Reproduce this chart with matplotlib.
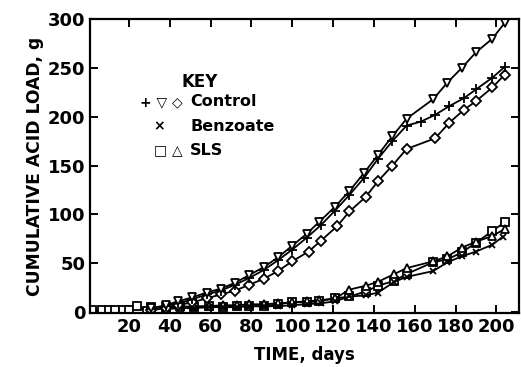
import matplotlib
matplotlib.use("Agg")
import matplotlib.pyplot as plt

plt.rcParams['font.family'] = ['DejaVu Sans']
plt.rcParams['font.weight'] = 'bold'
plt.rcParams['axes.labelweight'] = 'bold'

# Control (three replicates)
ctl_plus_days = [31, 38, 44, 51, 58, 65, 72, 79, 86, 93, 100, 107, 114, 121, 128, 135, 142, 149, 156,
                 163, 170, 177, 184, 190, 198, 204]
ctl_plus_vals = [3, 6, 9, 13, 18, 22, 28, 35, 43, 53, 64, 76, 89, 104, 120, 137, 157, 175, 191,
                 195, 202, 211, 219, 228, 240, 251]

ctl_tri_days = [31, 38, 44, 51, 58, 65, 72, 79, 86, 93, 100, 107, 113, 121, 128, 135, 142, 149, 156,
                169, 176, 183, 190, 198, 204]
ctl_tri_vals = [4, 7, 11, 15, 20, 24, 30, 38, 46, 56, 68, 80, 92, 108, 124, 142, 161, 180, 198,
                218, 235, 250, 266, 280, 296]

ctl_dia_days = [31, 38, 44, 51, 58, 65, 72, 79, 86, 93, 100, 108, 114, 122, 128, 136, 142, 149, 156,
                170, 177, 184, 190, 198, 204]
ctl_dia_vals = [2, 4, 7, 10, 14, 18, 22, 28, 34, 42, 52, 62, 73, 88, 103, 118, 134, 150, 167,
                178, 194, 207, 216, 230, 243]

# Benzoate
benz_days = [38, 45, 52, 59, 66, 73, 79, 86, 93, 100, 107, 114, 121, 128, 136, 142, 150, 156,
             169, 176, 183, 190, 198, 203]
benz_vals = [3, 4, 4, 5, 5, 5, 6, 6, 6, 7, 8, 9, 11, 16, 17, 20, 31, 36,
             42, 51, 57, 62, 69, 77]

# SLS (two replicates)
sls_sq_days = [2, 7, 10, 13, 17, 20, 24, 29, 31, 38, 45, 52, 59, 66, 73, 79, 86, 93, 100, 107, 113,
               121, 128, 136, 142, 150, 156, 169, 176, 183, 190, 198, 204]
sls_sq_vals = [2, 2, 2, 2, 2, 2, 6, 1, 5, 5, 6, 5, 6, 5, 6, 6, 6, 8, 10, 10, 11,
               14, 16, 21, 27, 32, 39, 51, 54, 61, 71, 83, 92]

sls_tri_days = [38, 45, 52, 59, 66, 73, 79, 86, 93, 100, 107, 113, 121, 128, 136, 142, 150, 156,
                169, 176, 183, 190, 198, 204]
sls_tri_vals = [4, 5, 6, 6, 7, 7, 8, 8, 9, 10, 11, 12, 14, 23, 27, 31, 39, 45,
                52, 57, 66, 72, 78, 85]

x_ticks = [20, 40, 60, 80, 100, 120, 140, 160, 180, 200]
y_ticks = [0, 50, 100, 150, 200, 250, 300]

fig = plt.figure(figsize=(5.21, 3.67), dpi=100)
ax = fig.add_axes([0.173, 0.147, 0.823, 0.801])

style = dict(color='black', lw=1.3, mfc='white', mec='black', mew=1.3)
ax.plot(sls_sq_days, sls_sq_vals, marker='s', ms=5.5, **style)
ax.plot(sls_tri_days, sls_tri_vals, marker='^', ms=6, **style)
ax.plot(benz_days, benz_vals, marker='x', ms=5, **style)
ax.plot(ctl_dia_days, ctl_dia_vals, marker='D', ms=5.5, **style)
ax.plot(ctl_plus_days, ctl_plus_vals, marker='+', ms=6.5, **style)
ax.plot(ctl_tri_days, ctl_tri_vals, marker='v', ms=6, **style)

ax.set_xlim(1, 211)
ax.set_ylim(-1, 300)
ax.set_xticks(x_ticks)
ax.set_yticks(y_ticks)
ax.tick_params(direction='in', length=6, width=1.4, labelsize=13, top=True, right=True)
for s in ax.spines.values():
    s.set_linewidth(1.6)

ax.set_xlabel('TIME, days', fontsize=12, labelpad=7)
ax.set_ylabel('CUMULATIVE ACID LOAD, g', fontsize=12.3, labelpad=3)

# key
ax.text(0.256, 0.786, 'KEY', transform=ax.transAxes, fontsize=12, ha='center', va='center')
ax.text(0.215, 0.718, '+ \u25bd \u25c7', transform=ax.transAxes, fontsize=10, ha='right', va='center')
ax.text(0.233, 0.718, 'Control', transform=ax.transAxes, fontsize=11.5, ha='left', va='center')
ax.text(0.175, 0.636, '\u00d7', transform=ax.transAxes, fontsize=10, ha='right', va='center')
ax.text(0.233, 0.636, 'Benzoate', transform=ax.transAxes, fontsize=11.5, ha='left', va='center')
ax.text(0.215, 0.554, '\u25a1 \u25b3', transform=ax.transAxes, fontsize=10, ha='right', va='center')
ax.text(0.233, 0.554, 'SLS', transform=ax.transAxes, fontsize=11.5, ha='left', va='center')

fig.savefig('out.png', dpi=100)
